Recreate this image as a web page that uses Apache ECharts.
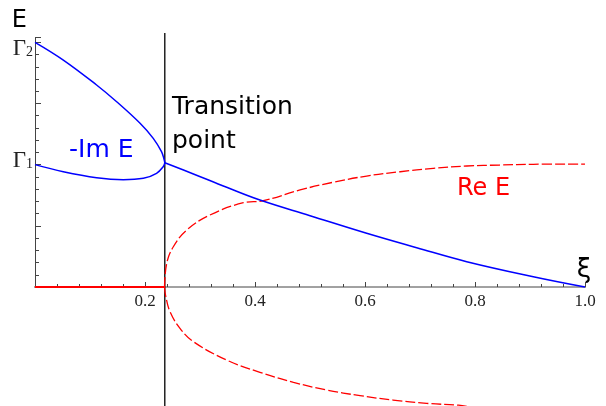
<!DOCTYPE html>
<html>
<head>
<meta charset="utf-8">
<script src="https://cdn.jsdelivr.net/npm/echarts@6/dist/echarts.min.js"></script>
<style>
  html, body { margin: 0; padding: 0; background: #fff; }
  #chart { width: 606px; height: 406px; }
</style>
</head>
<body>
<div id="chart"></div>
<script>
// transition point (xi where the two -Im E branches meet)
const xiT = 0.236;

// -Im E, upper branch (xi < xiT)
const imUpper = [
  [0, 2.0], [0.0515, 1.855], [0.112, 1.651], [0.1485, 1.514], [0.191, 1.338],
  [0.215, 1.215], [0.230, 1.106], [0.235, 1.038], [0.236, 1.015]
];
// -Im E, lower branch (xi < xiT)
const imLower = [
  [0, 1.0], [0.0515, 0.942], [0.112, 0.893], [0.1605, 0.877], [0.197, 0.888],
  [0.221, 0.929], [0.233, 0.983], [0.236, 1.015]
];
// -Im E after the transition
const imAfter = [
  [0.236, 1.016], [0.288, 0.924], [0.3485, 0.815], [0.409, 0.711], [0.5, 0.583],
  [0.603, 0.439], [0.694, 0.321], [0.785, 0.207], [0.906, 0.084], [1.0, 0.0]
];
// Re E before the transition
const reZero = [[0, 0], [0.236, 0]];
// Re E, upper branch
const reUpper = [
  [0.2355, 0], [0.2395, 0.194], [0.2515, 0.329], [0.276, 0.466], [0.318, 0.588],
  [0.379, 0.689], [0.415, 0.705], [0.482, 0.793], [0.542, 0.856], [0.603, 0.907],
  [0.664, 0.942], [0.724, 0.970], [0.785, 0.989], [0.845, 0.997], [0.906, 1.003],
  [1.0, 1.005]
];
// Re E, lower branch
const reLower = [
  [0.2355, 0], [0.2375, -0.07], [0.2455, -0.202], [0.2636, -0.338], [0.288, -0.447],
  [0.3485, -0.597], [0.409, -0.697], [0.470, -0.779], [0.530, -0.842], [0.591, -0.888],
  [0.651, -0.924], [0.712, -0.951], [0.770, -0.966], [0.785, -0.975]
];
// vertical marker at the transition point, and the long x axis line
const transLine = [[xiT, -0.975], [xiT, 2.076]];
const xAxisLine = [[-0.022, 0], [1.022, 0]];

const chart = echarts.init(document.getElementById("chart"));
chart.setOption({
  animation: false,
  grid: { left: 35, right: 21, top: 37.4, bottom: 119 },
  xAxis: {
    type: "value",
    min: 0,
    max: 1,
    interval: 0.2,
    name: "ξ",
    nameLocation: "end",
    nameGap: -1,
    nameTextStyle: {
      fontFamily: "DejaVu Sans", fontSize: 26, color: "#000",
      align: "center", verticalAlign: "bottom", padding: [0, 0, 4, 0]
    },
    axisLine: { show: false },
    axisTick: { inside: true, length: 5, lineStyle: { color: "#444" } },
    minorTick: { show: true, splitNumber: 5, length: 3, lineStyle: { color: "#444" } },
    splitLine: { show: false },
    axisLabel: {
      margin: 6,
      fontFamily: "Liberation Serif",
      fontSize: 17,
      color: "#222",
      formatter: v => (v === 0 ? "" : v.toFixed(1))
    }
  },
  yAxis: {
    type: "value",
    min: 0,
    max: 2.04,
    interval: 0.5,
    name: "E",
    nameLocation: "end",
    nameGap: 5,
    nameTextStyle: {
      fontFamily: "DejaVu Sans", fontSize: 24, color: "#000",
      align: "right", verticalAlign: "bottom", padding: [0, 8, 0, 0]
    },
    axisLine: { show: true, lineStyle: { color: "#444", width: 1 } },
    axisTick: { inside: true, length: 6, lineStyle: { color: "#444" } },
    minorTick: { show: true, splitNumber: 5, length: 4, lineStyle: { color: "#444" } },
    splitLine: { show: false },
    axisLabel: {
      margin: 2,
      formatter: v => (v === 1 ? "{g1|Γ}{s1|1}" : v === 2 ? "{g2|Γ}{s2|2}" : ""),
      rich: {
        g1: { fontFamily: "Liberation Serif", fontSize: 23, color: "#222", padding: [0, 0, 8, 0] },
        s1: { fontFamily: "Liberation Serif", fontSize: 14, color: "#222" },
        g2: { fontFamily: "Liberation Serif", fontSize: 23, color: "#222", padding: [13, 0, 0, 0] },
        s2: { fontFamily: "Liberation Serif", fontSize: 14, color: "#222", padding: [21, 0, 0, 0] }
      }
    }
  },
  graphic: [
    {
      type: "text", left: 172, top: 90,
      style: {
        text: "Transition\npoint", fontFamily: "DejaVu Sans", fontSize: 25,
        lineHeight: 34, fill: "#000"
      }
    },
    {
      type: "text", left: 69, top: 138,
      style: { text: "-Im E", fontFamily: "DejaVu Sans", fontSize: 25, fill: "#0000ff" }
    },
    {
      type: "text", left: 457, top: 177,
      style: { text: "Re E", fontFamily: "DejaVu Sans", fontSize: 24, fill: "#ff0000" }
    }
  ],
  series: [
    {
      type: "line", data: xAxisLine, clip: false, showSymbol: false, silent: true,
      lineStyle: { color: "#444", width: 1 }
    },
    {
      type: "line", data: transLine, clip: false, showSymbol: false, silent: true,
      lineStyle: { color: "#000", width: 1.3 }
    },
    {
      type: "line", data: reZero, clip: false, showSymbol: false,
      lineStyle: { color: "#ff0000", width: 2 }
    },
    {
      type: "line", data: reUpper, smooth: 0.4, clip: false, showSymbol: false,
      lineStyle: { color: "#ff0000", width: 1.3, type: [10, 3] }
    },
    {
      type: "line", data: reLower, smooth: 0.4, clip: false, showSymbol: false,
      lineStyle: { color: "#ff0000", width: 1.3, type: [10, 3] }
    },
    {
      type: "line", data: imUpper, smooth: 0.4, clip: false, showSymbol: false,
      lineStyle: { color: "#0000ff", width: 1.5 }
    },
    {
      type: "line", data: imLower, smooth: 0.4, clip: false, showSymbol: false,
      lineStyle: { color: "#0000ff", width: 1.5 }
    },
    {
      type: "line", data: imAfter, smooth: 0.4, clip: false, showSymbol: false,
      lineStyle: { color: "#0000ff", width: 1.5 }
    }
  ]
});
window.addEventListener("resize", () => chart.resize());
</script>
</body>
</html>
